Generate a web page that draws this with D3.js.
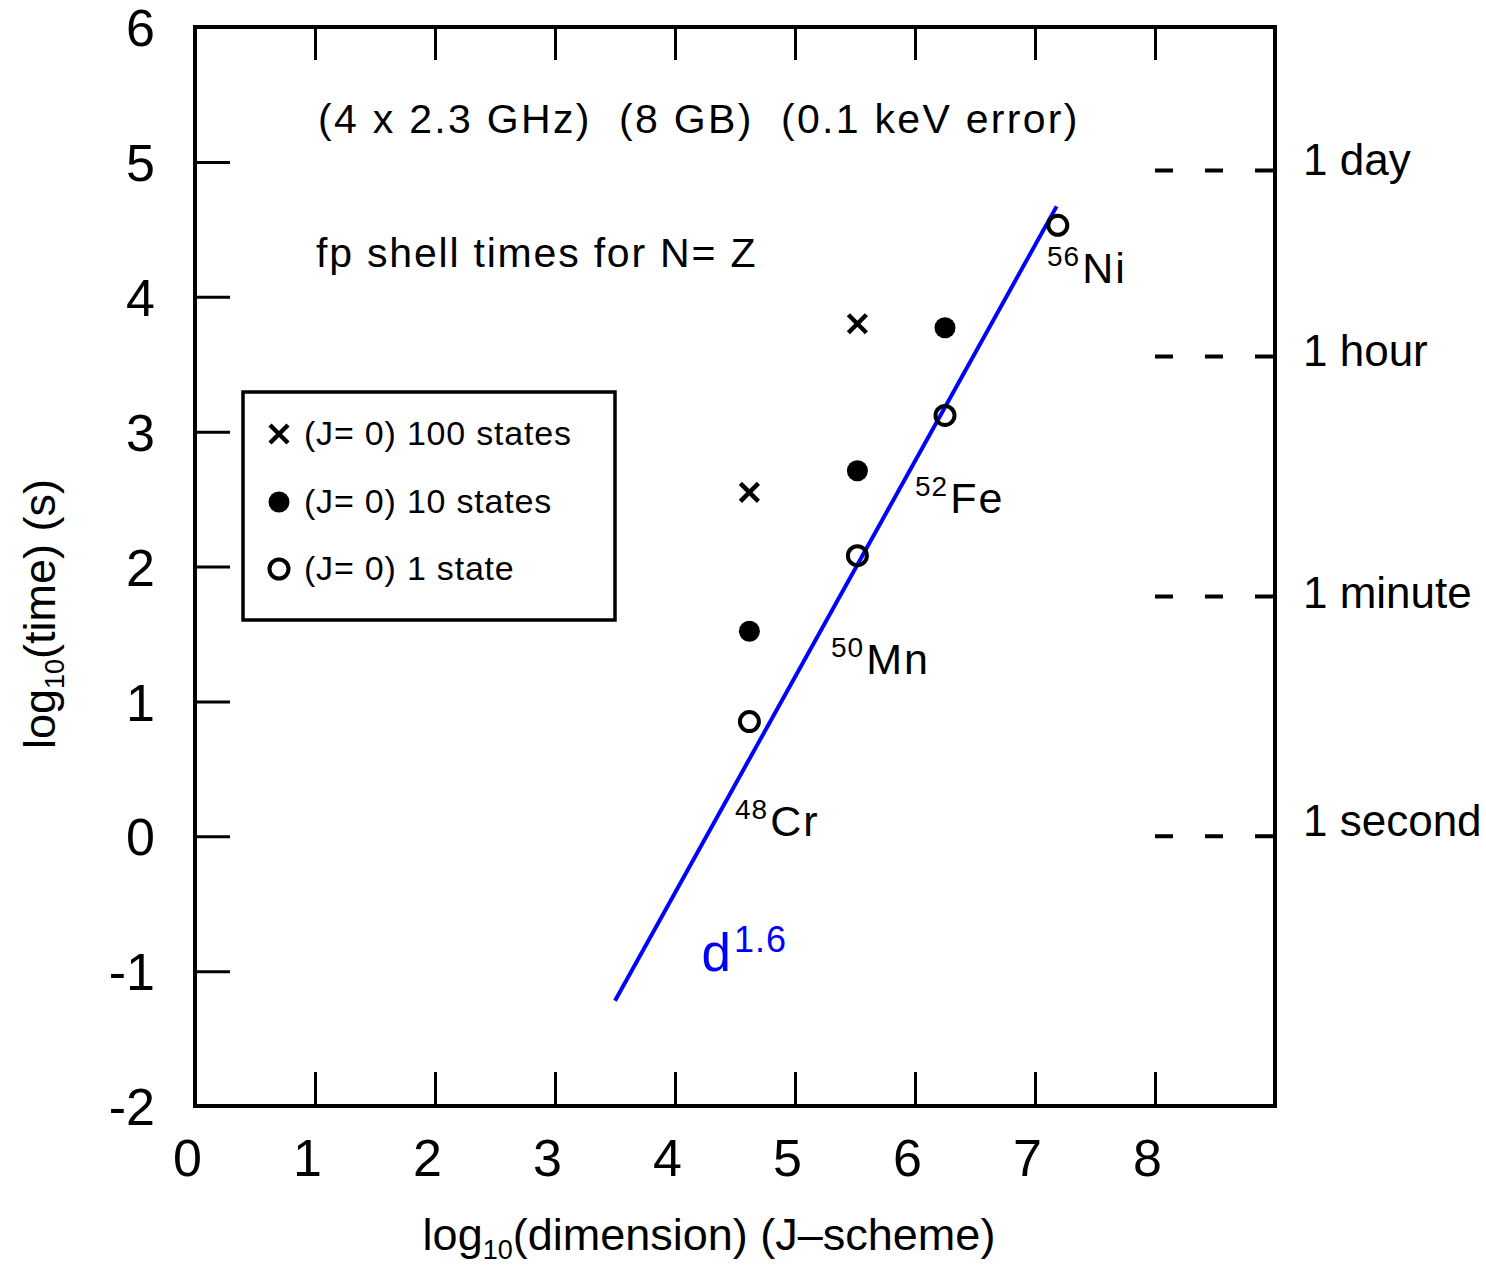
<!DOCTYPE html>
<html>
<head>
<meta charset="utf-8">
<script src="https://cdn.jsdelivr.net/npm/d3@7"></script>
<style>
  body { margin: 0; background: #fff; }
  svg { display: block; font-family: "Liberation Sans", Arial, Helvetica, sans-serif; }
</style>
</head>
<body>
<svg id="chart" width="1486" height="1268"></svg>
<script>
// fp shell timings, N=Z nuclei
const nuclei = ['48', '50', '52', '56']
const elements = ['Cr', 'Mn', 'Fe', 'Ni']
const logDim = [4.62, 5.52, 6.25, 7.19]
const oneState = [0.85, 2.08, 3.12, 4.53]
const tenStates = [1.52, 2.71, 3.77, null]
const hundredStates = [2.55, 3.80, null, null]

// where the nucleus labels sit (data units)
const labelX = [4.5, 5.3, 6.0, 7.1]
const labelY = [0.0, 1.2, 2.4, 4.1]

// d^1.6 fit line end points
const fitX = [3.50, 7.18]
const fitY = [-1.22, 4.67]

const xTicks = [0, 1, 2, 3, 4, 5, 6, 7, 8]
const yTicks = [-2, -1, 0, 1, 2, 3, 4, 5, 6]

const timeNames = ['1 day', '1 hour', '1 minute', '1 second']
const timeSeconds = [86400, 3600, 60, 1]
const timeLabelAt = [4.90, 3.49, 1.69, 0.0]

const legendNames = ['(J= 0) 100 states', '(J= 0) 10 states', '(J= 0) 1 state']

const svg = d3.select('#chart')
const margin = {top: 27, right: 211, bottom: 162, left: 195}
const W = 1486, H = 1268

const x = d3.scaleLinear().domain([0, 9]).range([margin.left, W - margin.right])
const y = d3.scaleLinear().domain([-2, 6]).range([H - margin.bottom, margin.top])

// ticks (inward)
const left = svg.append('g')
    .attr('transform', 'translate(' + x(0) + ',0)')
    .call(d3.axisLeft(y).tickValues(yTicks).tickSize(-35).tickSizeOuter(0).tickPadding(40)
        .tickFormat(function(d){return String(d)}))
left.selectAll('text').attr('font-size', '52px').attr('fill', '#000').attr('dy', '0.36em')

const bottom = svg.append('g')
    .attr('transform', 'translate(0,' + y(-2) + ')')
    .call(d3.axisBottom(x).tickValues(xTicks).tickSize(-34).tickSizeOuter(0).tickPadding(33))
bottom.selectAll('text').attr('font-size', '52px').attr('fill', '#000').attr('dx', -8)

svg.append('g')
    .attr('transform', 'translate(0,' + y(6) + ')')
    .call(d3.axisTop(x).tickValues(xTicks.slice(1)).tickSize(-33).tickSizeOuter(0).tickFormat(''))

svg.selectAll('.tick line').attr('stroke', '#000').attr('stroke-width', 3)
svg.selectAll('.domain').remove()

// frame
svg.append('rect')
    .attr('x', x(0)).attr('y', y(6))
    .attr('width', x(9) - x(0)).attr('height', y(-2) - y(6))
    .attr('fill', 'none').attr('stroke', '#000').attr('stroke-width', 4)

// time reference marks on the right
timeSeconds.forEach(function(s, i){
    const v = Math.log10(s)
    svg.append('line')
        .attr('x1', x(8)).attr('x2', x(9))
        .attr('y1', y(v)).attr('y2', y(v))
        .attr('stroke', '#000').attr('stroke-width', 4)
        .attr('stroke-dasharray', '18,32')
    svg.append('text')
        .attr('x', x(9) + 28).attr('y', y(timeLabelAt[i]))
        .attr('font-size', '44px')
        .text(timeNames[i])
})

// fit line
svg.append('path')
    .datum(d3.zip(fitX, fitY))
    .attr('fill', 'none')
    .attr('stroke', '#0000ff')
    .attr('stroke-width', 4)
    .attr('d', d3.line().x(function(d){return x(d[0])}).y(function(d){return y(d[1])}))

const dl = svg.append('text')
    .attr('x', x(4.22)).attr('y', y(-1.0))
    .attr('fill', '#0000ff')
    .attr('font-size', '53px')
dl.append('tspan').text('d')
dl.append('tspan').attr('font-size', '36px').attr('dy', -19).attr('dx', 3).attr('letter-spacing', '1px').text('1.6')

// markers
function cross(g, cx, cy) {
    g.append('path')
        .attr('d', 'M' + (cx - 9) + ',' + (cy - 9) + 'L' + (cx + 9) + ',' + (cy + 9) +
                   'M' + (cx - 9) + ',' + (cy + 9) + 'L' + (cx + 9) + ',' + (cy - 9))
        .attr('stroke', '#000').attr('stroke-width', 4.5).attr('fill', 'none')
}
function dot(g, cx, cy) {
    g.append('circle').attr('cx', cx).attr('cy', cy).attr('r', 10.5).attr('fill', '#000')
}
function ring(g, cx, cy) {
    g.append('circle').attr('cx', cx).attr('cy', cy).attr('r', 9.5)
        .attr('fill', 'none').attr('stroke', '#000').attr('stroke-width', 4)
}

const pts = svg.append('g')
logDim.forEach(function(d, i){
    if (hundredStates[i] != null) cross(pts, x(d), y(hundredStates[i]))
    if (tenStates[i] != null) dot(pts, x(d), y(tenStates[i]))
    if (oneState[i] != null) ring(pts, x(d), y(oneState[i]))
})

// nucleus labels
nuclei.forEach(function(a, i){
    const t = svg.append('text')
        .attr('x', x(labelX[i])).attr('y', y(labelY[i]))
        .attr('font-size', '43px')
    t.append('tspan').attr('font-size', '28px').attr('dy', -17).attr('letter-spacing', '1px').text(a)
    t.append('tspan').attr('dy', 17).attr('dx', 2).attr('letter-spacing', '2px').text(elements[i])
})

// annotations
svg.append('text')
    .attr('x', 318).attr('y', 133)
    .attr('font-size', '41px').attr('letter-spacing', '2.3px')
    .attr('xml:space', 'preserve')
    .text('(4 x 2.3 GHz)  (8 GB)  (0.1 keV error)')

svg.append('text')
    .attr('x', 316).attr('y', 267)
    .attr('font-size', '41px').attr('letter-spacing', '1.8px')
    .text('fp shell times for N= Z')

// legend
const lg = svg.append('g')
lg.append('rect')
    .attr('x', 243).attr('y', 392).attr('width', 372).attr('height', 228)
    .attr('fill', '#fff').attr('stroke', '#000').attr('stroke-width', 3.5)
const rowY = [434, 502, 569]
const drawers = [cross, dot, ring]
legendNames.forEach(function(n, i){
    drawers[i](lg, 279, rowY[i])
    lg.append('text')
        .attr('x', 304).attr('y', rowY[i] + 11)
        .attr('font-size', '34px').attr('letter-spacing', '0.8px')
        .attr('xml:space', 'preserve')
        .text(n)
})

// axis titles
const xt = svg.append('text')
    .attr('x', 709).attr('y', 1250)
    .attr('text-anchor', 'middle')
    .attr('font-size', '45px')
xt.append('tspan').text('log')
xt.append('tspan').attr('font-size', '27px').attr('dy', 9).text('10')
xt.append('tspan').attr('dy', -9).text('(dimension) (J\u2013scheme)')

const yt = svg.append('text')
    .attr('transform', 'translate(55,614) rotate(-90)')
    .attr('text-anchor', 'middle')
    .attr('font-size', '45px')
yt.append('tspan').text('log')
yt.append('tspan').attr('font-size', '27px').attr('dy', 9).text('10')
yt.append('tspan').attr('dy', -9).text('(time) (s)')
</script>
</body>
</html>
